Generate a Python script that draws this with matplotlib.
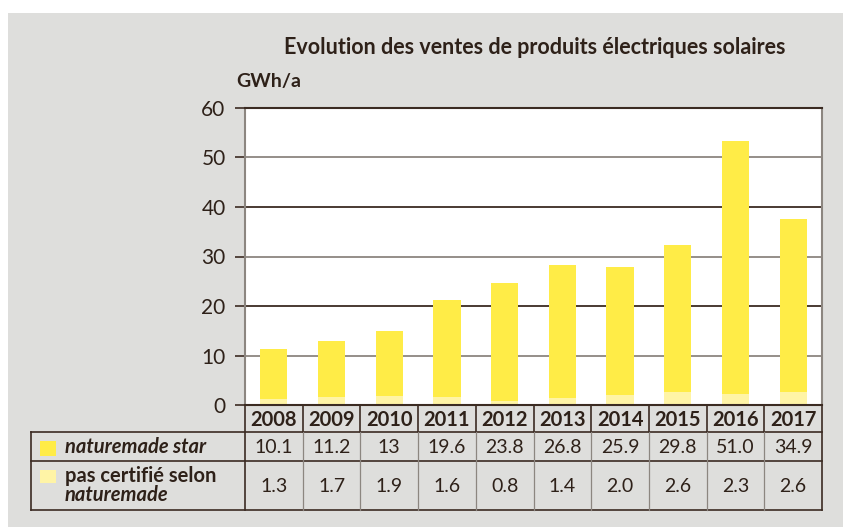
import matplotlib.pyplot as plt
from matplotlib.patches import Rectangle

# data
years = ['2008', '2009', '2010', '2011', '2012', '2013', '2014', '2015', '2016', '2017']
star = [10.1, 11.2, 13, 19.6, 23.8, 26.8, 25.9, 29.8, 51.0, 34.9]
star_lbl = ['10.1', '11.2', '13', '19.6', '23.8', '26.8', '25.9', '29.8', '51.0', '34.9']
noncert = [1.3, 1.7, 1.9, 1.6, 0.8, 1.4, 2.0, 2.6, 2.3, 2.6]
noncert_lbl = ['1.3', '1.7', '1.9', '1.6', '0.8', '1.4', '2.0', '2.6', '2.3', '2.6']
yticks = [0, 10, 20, 30, 40, 50, 60]

YEL = '#ffec47'
LYEL = '#fff4a6'
BG = '#dededc'
TXT = '#2e2119'
DARK = '#3b2b22'
GREY = '#8c8680'
FONT = 'Lato'

W, H = 843, 527
fig = plt.figure(figsize=(W / 100, H / 100), dpi=100)
fig.patch.set_facecolor('white')

# pixel-coordinate overlay for background, title and table
bgax = fig.add_axes([0, 0, 1, 1], zorder=0)
bgax.set_xlim(0, W)
bgax.set_ylim(H, 0)
bgax.axis('off')
bgax.add_patch(Rectangle((8, 13), W - 8, H - 13, color=BG, lw=0))

# plot area
L, R, T, B = 245, 822, 108, 405
ax = fig.add_axes([L / W, (H - B) / H, (R - L) / W, (B - T) / H], zorder=1)
ax.set_facecolor('white')
x = list(range(len(years)))
ax.bar(x, noncert, width=0.47, color=LYEL, zorder=2)
ax.bar(x, star, width=0.47, bottom=noncert, color=YEL, zorder=2)
ax.set_xlim(-0.5, len(years) - 0.5)
ax.set_ylim(0, 60)
for i, v in enumerate(yticks[1:-1]):
    ax.axhline(v, color=GREY if i % 2 == 0 else DARK, lw=1.3, zorder=1)
ax.set_yticks(yticks)
ax.set_yticklabels([str(v) for v in yticks], fontsize=15, color=TXT, family=FONT)
ax.tick_params(axis='y', length=7, width=1.2, color=DARK, pad=7)
ax.set_xticks([])
ax.spines['top'].set_color(DARK)
ax.spines['top'].set_linewidth(1.5)
ax.spines['bottom'].set_color(DARK)
ax.spines['bottom'].set_linewidth(1.5)
ax.spines['left'].set_color(GREY)
ax.spines['left'].set_linewidth(1.5)
ax.spines['right'].set_color(GREY)
ax.spines['right'].set_linewidth(1.5)

# title and unit
bgax.text(535, 48, 'Evolution des ventes de produits électriques solaires', ha='center', va='center',
          fontsize=15.5, fontweight='bold', color=TXT, family=FONT)
bgax.text(236, 82, 'GWh/a', ha='left', va='center', fontsize=14, fontweight='bold', color=TXT, family=FONT)

# table
TL = 31
r0, r1, r2, r3 = 405, 432, 461, 510
colw = (R - L) / len(years)
bgax.plot([TL, R], [r1, r1], color=DARK, lw=1.2)
bgax.plot([TL, R], [r2, r2], color=DARK, lw=1.2)
bgax.plot([TL, R], [r3, r3], color=DARK, lw=1.2)
bgax.plot([TL, TL], [r1, r3], color=DARK, lw=1.2)
bgax.plot([L, L], [r0, r3], color=DARK, lw=1.2)
bgax.plot([R, R], [r0, r3], color=DARK, lw=1.2)
for i in range(1, len(years)):
    xx = L + i * colw
    bgax.plot([xx, xx], [r0, r1], color=DARK, lw=1.2)
    bgax.plot([xx, xx], [r1, r3], color=GREY, lw=0.9)

for i, yr in enumerate(years):
    cx = L + (i + 0.5) * colw
    bgax.text(cx, (r0 + r1) / 2 + 1, yr, ha='center', va='center', fontsize=14.5,
              fontweight='bold', color=TXT, family=FONT)
    bgax.text(cx, (r1 + r2) / 2 + 1, star_lbl[i], ha='center', va='center', fontsize=14,
              color=TXT, family=FONT)
    bgax.text(cx, (r2 + r3) / 2 + 1, noncert_lbl[i], ha='center', va='center', fontsize=14,
              color=TXT, family=FONT)

bgax.add_patch(Rectangle((40, 441), 16, 15, color=YEL, lw=0))
bgax.add_patch(Rectangle((40, 470), 16, 13, color=LYEL, lw=0))
bgax.text(65, 447, 'naturemade star', ha='left', va='center', fontsize=14.5, fontweight='bold',
          fontstyle='italic', color=TXT, family=FONT)
bgax.text(65, 476, 'pas certifié selon', ha='left', va='center', fontsize=14.5, fontweight='bold',
          color=TXT, family=FONT)
bgax.text(65, 495, 'naturemade', ha='left', va='center', fontsize=14.5, fontweight='bold',
          fontstyle='italic', color=TXT, family=FONT)

fig.savefig('out.png', dpi=100, facecolor=fig.get_facecolor())
